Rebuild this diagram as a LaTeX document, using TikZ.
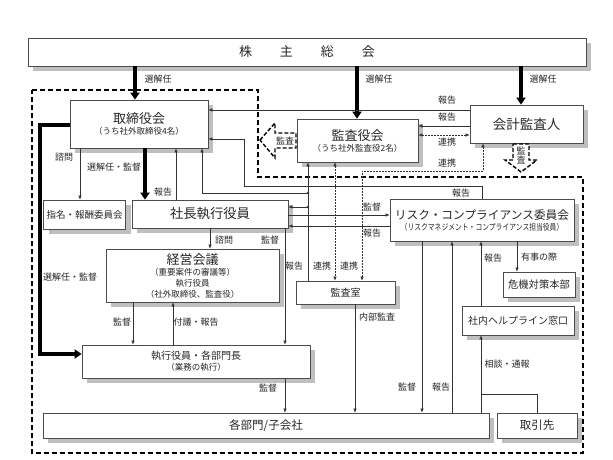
\documentclass[tikz,border=0pt]{standalone}
\usepackage{fontspec}
\setmainfont{Noto Sans CJK JP}
\usepackage{graphicx}
\usetikzlibrary{arrows.meta,shadows}

\newcommand{\mainsz}{\fontsize{13}{14}\selectfont}
\newcommand{\subsz}{\fontsize{8.5}{11}\selectfont}

\begin{document}
\begin{tikzpicture}[x=1pt,y=-1pt,
  box/.style={draw=black!70,line width=0.7pt,fill=white,align=center,inner sep=0pt,
    text=black!85,font=\subsz,
    drop shadow={shadow xshift=5pt,shadow yshift=-5pt,fill=black!25,opacity=1}},
  lbl/.style={font=\fontsize{9}{11}\selectfont,inner sep=0pt,text=black!85},
  con/.style={draw=black!80,line width=0.6pt},
  arr/.style={con,-{Latex[length=4pt,width=3.5pt]}},
  dotarr/.style={con,dash pattern=on 1.5pt off 1.5pt,{Latex[length=4pt,width=3.5pt]}-{Latex[length=4pt,width=3.5pt]}},
  bigarr/.style={line width=3.5pt,-{Triangle[length=7pt,width=9pt]}},
  hollow/.style={line width=1.4pt,dash pattern=on 4pt off 2pt,fill=white}
  ]
\fill[white] (0,0) rectangle (613,460);
\useasboundingbox (0,0) rectangle (613,460);

% outline of the executive side
\draw[line width=1.6pt,dash pattern=on 5pt off 3pt] (32,90) -- (258,90) -- (258,177) -- (583,177) -- (583,453) -- (32,453) -- cycle;

% boxes
\node[box,minimum width=558pt,minimum height=28pt] (soukai) at (307,52) {\mainsz 株\hspace{28pt}主\hspace{28pt}総\hspace{28pt}会};
\node[box,minimum width=138pt,minimum height=48pt] (torishimari) at (139,124) {{\mainsz 取締役会}\\（うち社外取締役4名）};
\node[box,minimum width=121pt,minimum height=43pt] (kansayaku) at (357.5,140.5) {{\mainsz 監査役会}\\（うち社外監査役2名）};
\node[box,minimum width=113pt,minimum height=38pt] (kaikei) at (526.5,124) {\fontsize{13.5}{15}\selectfont 会計監査人};
\node[box,minimum width=82pt,minimum height=29pt] (shimei) at (84.5,214.5) {\fontsize{9.5}{11}\selectfont 指名・報酬委員会};
\node[box,minimum width=156pt,minimum height=28pt] (shacho) at (210,214) {\fontsize{13.3}{15}\selectfont 社長執行役員};
\node[box,minimum width=173pt,minimum height=53pt] (keiei) at (192.5,275.5) {{\mainsz 経営会議}\\（重要案件の審議等）\\執行役員\\（社外取締役、監査役）};
\node[box,minimum width=228pt,minimum height=33pt] (shikko) at (196,361.5) {{\fontsize{10}{12}\selectfont 執行役員・各部門長}\\（業務の執行）};
\node[box,minimum width=446pt,minimum height=25pt] (kakubu) at (266,425.5) {\fontsize{11.5}{13}\selectfont 各部門/子会社};
\node[box,minimum width=80pt,minimum height=25pt] (torihiki) at (537,425.5) {\fontsize{11.5}{13}\selectfont 取引先};
\node[box,minimum width=184pt,minimum height=42pt] (risk) at (482,220) {{\fontsize{11.7}{13}\selectfont リスク・コンプライアンス委員会}\\\scalebox{0.8}[1]{（リスクマネジメント・コンプライアンス担当役員）}};
\node[box,minimum width=72pt,minimum height=25pt] (kiki) at (539,284.5) {\fontsize{10.3}{12}\selectfont 危機対策本部};
\node[box,minimum width=112pt,minimum height=29pt] (help) at (518,320.5) {\fontsize{10}{12}\selectfont 社内ヘルプライン窓口};
\node[box,minimum width=99pt,minimum height=23pt] (kansashitsu) at (345.5,292.5) {\fontsize{10}{12}\selectfont 監査室};

% lanes
\coordinate (vSenA) at (135,0);
\coordinate (vSenB) at (357,0);
\coordinate (vSenC) at (521,0);
\coordinate (vKan) at (145,0);
\coordinate (vShimon) at (80,0);
\coordinate (vHoA) at (176,0);
\coordinate (vRep) at (308,0);
\coordinate (vRenA) at (335,0);
\coordinate (vTop) at (202,0);
\coordinate (vRisk) at (482,0);
\coordinate (vRiskL) at (244,0);
\coordinate (vShimonB) at (210,0);
\coordinate (vKanB) at (285,0);
\coordinate (vKanC) at (133,0);
\coordinate (vFugi) at (173,0);
\coordinate (vNai) at (355,0);
\coordinate (vKanE) at (422,0);
\coordinate (vHoE) at (452,0);
\coordinate (vYuji) at (517,0);
\coordinate (vHelp) at (481,0);
\coordinate (hA) at (0,110);
\coordinate (hB) at (0,126);
\coordinate (hC) at (0,135);
\coordinate (hRisk) at (0,186);
\coordinate (hRiskB) at (0,139);
\coordinate (hTop) at (0,193);
\coordinate (hSha) at (0,207);
\coordinate (hKanR) at (0,215);
\coordinate (hHoR) at (0,226);
\coordinate (hTori) at (0,394);
\coordinate (cSenA) at (40,125);
\coordinate (cSenB) at (40,354);
\coordinate (cRenA) at (483,171);
\coordinate (cRenB) at (362,171);

% election
\draw[bigarr] (soukai.south -| vSenA) -- (torishimari.north -| vSenA);
\draw[bigarr] (soukai.south -| vSenB) -- (kansayaku.north -| vSenB);
\draw[bigarr] (soukai.south -| vSenC) -- (kaikei.north -| vSenC);
\draw[bigarr] (torishimari.south -| vKan) -- (shacho.north -| vKan);
\draw[bigarr] (torishimari.west |- cSenA) -- (cSenA) -- (cSenB) -- (shikko.west |- cSenB);

% board and president
\draw[arr] (torishimari.south -| vShimon) -- (shimei.north -| vShimon);
\draw[arr] (shacho.north -| vHoA) -- (torishimari.south -| vHoA);
\draw[arr] (kaikei.west |- hA) -- (torishimari.east |- hA);
\draw[arr] (kaikei.west |- hB) -- (kansayaku.east |- hB);
\draw[dotarr] (kansayaku.east |- hC) -- (kaikei.west |- hC);
\draw[dotarr] (kaikei.south -| cRenA) -- (cRenA) -- (cRenB) -- (kansashitsu.north -| cRenB);
\draw[dotarr] (kansayaku.south -| vRenA) -- (kansashitsu.north -| vRenA);
\draw[arr] (kansashitsu.north -| vRep) -- (kansayaku.south -| vRep);
\draw[arr] (vRep |- hTop) -- (vTop |- hTop) -- (torishimari.south -| vTop);
\draw[arr] (vRep |- hSha) -- (shacho.east |- hSha);
\fill[black!80] (vRep |- hTop) circle (1.4pt) (vRep |- hSha) circle (1.4pt);
\draw[arr] (risk.north -| vRisk) -- (vRisk |- hRisk) -- (vRiskL |- hRisk) -- (vRiskL |- hRiskB) -- (torishimari.east |- hRiskB);
\draw[arr] (shacho.east |- hKanR) -- (risk.west |- hKanR);
\draw[arr] (risk.west |- hHoR) -- (shacho.east |- hHoR);

% execution
\draw[arr] (shacho.south -| vShimonB) -- (keiei.north -| vShimonB);
\draw[arr] (shacho.south -| vKanB) -- (shikko.north -| vKanB);
\draw[arr] (keiei.south -| vKanC) -- (shikko.north -| vKanC);
\draw[arr] (shikko.north -| vFugi) -- (keiei.south -| vFugi);
\draw[arr] (shikko.south -| vKanB) -- (kakubu.north -| vKanB);
\draw[arr] (kansashitsu.south -| vNai) -- (kakubu.north -| vNai);
\draw[arr] (risk.south -| vKanE) -- (kakubu.north -| vKanE);
\draw[arr] (kakubu.north -| vHoE) -- (risk.south -| vHoE);
\draw[arr] (risk.south -| vYuji) -- (kiki.north -| vYuji);
\draw[arr] (help.north -| vHelp) -- (risk.south -| vHelp);
\draw[arr] (kakubu.north -| vHelp) -- (help.south -| vHelp);
\draw[con] (torihiki.north) -- (torihiki.north |- hTori) -- (vHelp |- hTori);

% audit arrows
\draw[hollow] (260,140) -- (275,123) -- (275,133) -- (296,133) -- (296,148) -- (275,148) -- (275,158) -- cycle;
\node[lbl] (kansaL) at (285,140.5) {監査};
\draw[hollow] (513,144) -- (529,144) -- (529,160) -- (537,160) -- (521,172) -- (505,160) -- (513,160) -- cycle;
\node[lbl,align=center] (kansaR) at (521,156) {監\\[-2pt]査};

% labels
\node[lbl] (lSenA) at (158,79) {選解任};
\node[lbl] (lSenB) at (379,79) {選解任};
\node[lbl] (lSenC) at (543,79) {選解任};
\node[lbl] (lKan) at (114,167) {選解任・監督};
\node[lbl] (lShimon) at (64,157) {諮問};
\node[lbl] (lHoA) at (163,192) {報告};
\node[lbl] (lSenL) at (70,277) {選解任・監督};
\node[lbl] (lHoK1) at (447,100) {報告};
\node[lbl] (lHoK2) at (447,117) {報告};
\node[lbl] (lRenK1) at (447,142) {連携};
\node[lbl] (lRenK2) at (447,163) {連携};
\node[lbl] (lHoRisk) at (461,193) {報告};
\node[lbl] (lKanR) at (372,207) {監督};
\node[lbl] (lHoR) at (372,233) {報告};
\node[lbl] (lShimonB) at (224,240) {諮問};
\node[lbl] (lKanB) at (270,240) {監督};
\node[lbl] (lHoShitsu) at (294,266) {報告};
\node[lbl] (lRenA) at (322,266) {連携};
\node[lbl] (lRenB) at (349,266) {連携};
\node[lbl] (lKanC) at (122,322) {監督};
\node[lbl] (lFugi) at (196,322) {付議・報告};
\node[lbl] (lKanD) at (268,388) {監督};
\node[lbl] (lNai) at (377,317) {内部監査};
\node[lbl] (lKanE) at (407,387) {監督};
\node[lbl] (lHoE) at (441,387) {報告};
\node[lbl] (lYuji) at (539,257) {有事の際};
\node[lbl] (lHoHelp) at (493,258) {報告};
\node[lbl] (lSoudan) at (507,364) {相談・通報};
\end{tikzpicture}
\end{document}
